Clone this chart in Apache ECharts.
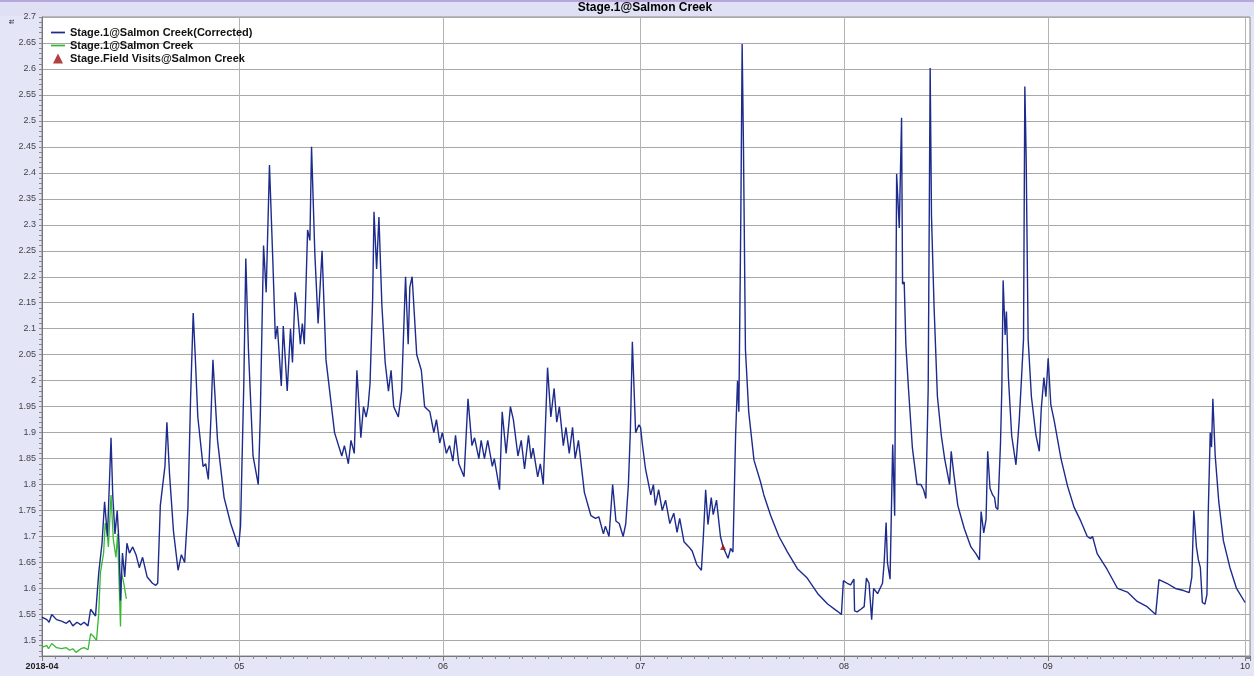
<!DOCTYPE html>
<html>
<head>
<meta charset="utf-8">
<script src="https://cdn.jsdelivr.net/npm/echarts@6/dist/echarts.min.js"></script>
<style>
html,body{margin:0;padding:0;background:#e4e6f7;}
#c{width:1254px;height:676px;}
</style>
</head>
<body>
<div id="c"></div>
<script>
// ---- data (days since 2018-04-01, stage in ft) ----
const chartTitle = 'Stage.1@Salmon Creek';
const seriesNames = ['Stage.1@Salmon Creek(Corrected)', 'Stage.1@Salmon Creek', 'Stage.Field Visits@Salmon Creek'];
const xTickLabels = ['2018-04', '05', '06', '07', '08', '09', '10'];
const yUnit = 'ft';

const correctedDays = [
0.0,0.25,0.74,1.08,1.48,2.22,2.96,3.7,4.2,4.69,5.33,5.92,6.4,7.0,7.4,8.14,8.63,9.13,9.52,9.96,10.5,10.76,11.1,11.44,11.74,11.94,12.24,12.58,12.92,13.3,13.8,14.3,14.8,15.3,16.0,16.8,17.3,17.6,
18.0,18.7,19.0,19.4,20.0,20.7,21.2,21.7,22.2,22.6,23.0,23.3,23.7,24.5,24.9,25.3,25.7,26.0,26.7,27.7,28.7,29.9,30.2,30.7,31.0,31.4,32.1,32.9,33.2,33.7,34.1,34.6,35.1,35.5,35.8,36.4,36.7,37.3,37.8,38.1,38.5,38.8,39.3,39.6,39.9,40.4,40.75,41.0,41.5,42.0,42.6,43.2,44.5,
45.6,46.0,46.6,47.0,47.5,47.9,48.5,48.9,49.3,49.6,49.9,50.3,50.5,50.9,51.25,51.7,52.2,52.7,53.1,53.5,54.2,54.7,55.3,55.7,55.95,56.3,57.0,57.7,58.2,59.0,59.6,60.0,60.5,60.9,61.5,62.0,62.5,62.9,63.4,64.2,64.8,65.4,65.8,66.45,66.8,67.3,67.8,68.5,68.8,69.6,70.0,70.6,71.25,71.7,72.4,72.9,73.4,74.0,74.4,74.7,75.4,75.8,76.25,76.9,77.4,77.9,78.3,78.7,79.3,79.7,80.2,80.7,81.1,81.6,82.5,83.5,84.2,84.7,85.4,85.7,86.25,86.8,87.3,87.8,88.4,88.8,89.2,89.5,89.8,90.3,
90.8,91.05,91.3,91.8,92.6,93.0,93.3,93.8,94.35,94.85,95.5,96.1,96.6,97.0,97.65,98.4,98.9,99.6,100.3,100.6,100.95,101.3,101.8,102.1,102.6,103.2,103.6,104.35,104.75,105.1,105.5,105.8,106.0,106.3,106.5,106.7,107.0,107.5,108.3,109.3,109.8,110.85,112.1,113.4,114.9,116.4,118.0,119.5,121.0,121.6,121.9,122.5,123.0,123.5,123.6,124.0,124.55,125.06,125.4,125.8,126.2,126.5,127.1,127.85,128.1,128.4,128.6,129.0,129.4,129.7,130.0,130.4,130.75,130.9,131.15,131.4,131.8,132.4,133.1,133.7,134.1,134.45,134.8,135.1,135.3,135.7,136.2,
136.8,137.3,138.05,138.3,138.7,139.3,140.3,141.3,142.1,142.6,142.85,143.25,143.6,143.85,144.2,144.6,144.9,145.1,145.4,145.8,146.0,146.2,146.5,146.7,147.0,147.5,148.15,148.65,149.0,149.3,149.5,149.7,150.0,150.5,151.2,151.7,152.0,152.4,152.7,153.05,153.45,153.95,155.0,156.0,157.0,158.0,159.0,159.5,159.8,160.5,162.0,163.6,165.1,166.6,168.1,169.4,169.7,169.9,171.1,172.4,173.65,174.5,174.9,175.2,175.6,175.9,176.2,176.5,176.9,177.2,177.4,177.7,177.9,178.1,178.45,179.0,179.7,180.7,181.7,183.0
];
const correctedStage = [
1.545,1.545,1.54,1.535,1.55,1.54,1.537,1.533,1.538,1.528,1.535,1.53,1.535,1.528,1.56,1.547,1.63,1.687,1.767,1.70,1.89,1.78,1.705,1.75,1.68,1.577,1.668,1.622,1.687,1.668,1.68,1.665,1.64,1.66,1.622,1.61,1.606,1.61,
1.76,1.835,1.92,1.82,1.71,1.635,1.665,1.65,1.755,1.965,2.13,2.05,1.93,1.835,1.84,1.81,1.93,2.04,1.885,1.775,1.725,1.68,1.72,1.995,2.235,2.06,1.855,1.80,1.93,2.26,2.17,2.415,2.235,2.08,2.105,1.99,2.105,1.98,2.10,2.035,2.17,2.145,2.07,2.11,2.07,2.29,2.27,2.45,2.245,2.11,2.25,2.04,1.90,
1.855,1.875,1.84,1.885,1.86,2.02,1.89,1.95,1.93,1.95,1.995,2.16,2.325,2.215,2.315,2.145,2.035,1.98,2.02,1.95,1.93,1.98,2.20,2.07,2.18,2.20,2.05,2.02,1.95,1.94,1.90,1.925,1.88,1.90,1.86,1.875,1.845,1.895,1.84,1.815,1.965,1.875,1.89,1.85,1.885,1.85,1.885,1.835,1.85,1.79,1.94,1.86,1.95,1.925,1.855,1.885,1.83,1.895,1.85,1.87,1.815,1.84,1.80,2.025,1.93,1.985,1.92,1.95,1.875,1.91,1.86,1.91,1.85,1.885,1.785,1.74,1.735,1.738,1.705,1.72,1.70,1.80,1.73,1.725,1.70,1.725,1.80,1.905,2.075,1.90,
1.915,1.91,1.88,1.83,1.78,1.80,1.76,1.79,1.75,1.77,1.725,1.745,1.708,1.735,1.69,1.68,1.672,1.646,1.635,1.70,1.79,1.723,1.775,1.742,1.77,1.70,1.68,1.658,1.677,1.67,1.893,2.00,1.94,2.317,2.648,2.45,2.06,1.94,1.847,1.805,1.78,1.74,1.70,1.67,1.638,1.62,1.59,1.57,1.556,1.55,1.615,1.61,1.607,1.618,1.557,1.555,1.56,1.565,1.62,1.61,1.54,1.60,1.59,1.61,1.65,1.727,1.65,1.618,1.877,1.74,2.398,2.294,2.506,2.186,2.19,2.07,1.985,1.87,1.80,1.80,1.79,1.773,1.985,2.602,2.317,2.14,1.97,
1.894,1.85,1.80,1.864,1.82,1.76,1.715,1.68,1.666,1.655,1.748,1.707,1.733,1.864,1.793,1.78,1.775,1.756,1.752,1.88,1.984,2.193,2.088,2.133,2.006,1.894,1.838,1.924,2.006,2.08,2.566,2.432,2.08,1.969,1.894,1.864,1.946,2.006,1.969,2.043,1.954,1.924,1.85,1.797,1.756,1.73,1.70,1.696,1.70,1.667,1.637,1.60,1.593,1.575,1.565,1.55,1.548,1.617,1.61,1.60,1.596,1.592,1.622,1.75,1.68,1.655,1.64,1.573,1.57,1.588,1.745,1.90,1.872,1.965,1.857,1.767,1.692,1.64,1.60,1.573
];

const rawDays = [0.0,0.25,0.74,0.99,1.48,2.22,2.96,3.7,4.2,4.69,5.18,5.92,6.4,7.0,7.4,7.9,8.29,8.63,8.88,9.37,9.62,9.96,10.1,10.5,10.85,11.25,11.5,11.94,12.09,12.44,12.83];
const rawStage = [1.487,1.487,1.49,1.484,1.494,1.486,1.484,1.486,1.481,1.484,1.477,1.484,1.486,1.482,1.513,1.507,1.50,1.552,1.63,1.668,1.726,1.70,1.68,1.78,1.694,1.66,1.705,1.527,1.63,1.61,1.58];

const visitDays = [103.6];
const visitStage = [1.68];

// ---- build ----
const t0 = new Date(2018, 3, 1).getTime();
const tEnd = new Date(2018, 9, 1).getTime();
const DAY = 86400000;
const toPts = (d, v) => d.map((x, i) => [t0 + x * DAY, v[i]]);

const chart = echarts.init(document.getElementById('c'), null, {renderer: 'canvas'});
const FONT = '"Liberation Sans", Arial, sans-serif';
const yMin = 1.47, yMax = 2.7;
const lineIcon = 'path://M0,0 L24,0 L24,3 L0,3 Z';

chart.setOption({
  animation: false,
  backgroundColor: '#e4e6f7',
  graphic: [
    {type: 'rect', shape: {x: 0, y: 0, width: 1254, height: 2}, style: {fill: '#b9a6dc'}, silent: true},
    {type: 'rect', shape: {x: 0, y: 2, width: 1254, height: 14}, style: {fill: '#dfe0f4'}, silent: true},
    {type: 'text', x: 645, y: 2, style: {text: chartTitle, font: 'bold 12px ' + FONT, fill: '#000', align: 'center'}, silent: true},
    {type: 'text', x: 8, y: 24, rotation: Math.PI / 2, style: {text: yUnit, font: '8px ' + FONT, fill: '#333'}, silent: true}
  ],
  grid: {left: 42, right: 4, top: 17, bottom: 20, show: true, backgroundColor: '#fff', borderColor: '#8a8a8a', borderWidth: 1},
  legend: {
    orient: 'vertical', left: 46, top: 22, itemGap: 2, itemWidth: 14, itemHeight: 10,
    textStyle: {fontFamily: FONT, fontWeight: 'bold', fontSize: 11, color: '#111'},
    data: [
      {name: seriesNames[0], icon: lineIcon},
      {name: seriesNames[1], icon: lineIcon},
      {name: seriesNames[2], icon: 'path://M0,10 L5,0 L10,10 Z'}
    ]
  },
  xAxis: {
    type: 'time',
    min: t0,
    max: tEnd + 0.75 * DAY,
    minInterval: 28 * DAY,
    maxInterval: 31 * DAY,
    axisLine: {lineStyle: {color: '#777'}},
    axisTick: {length: 5, lineStyle: {color: '#777'}},
    minorTick: {show: true, splitNumber: 15, length: 3, lineStyle: {color: '#888'}},
    splitLine: {show: true, lineStyle: {color: '#b4b4b4', width: 1}},
    axisLabel: {
      fontFamily: FONT, fontSize: 9, color: '#333', margin: 6,
      formatter: function (v) {
        const d = new Date(v);
        if (d.getDate() !== 1 || d.getHours() !== 0) return '';
        const idx = (d.getFullYear() - 2018) * 12 + d.getMonth() - 3;
        const s = xTickLabels[idx] || '';
        return idx === 0 ? '{b|' + s + '}' : s;
      },
      rich: {b: {fontWeight: 'bold', fontSize: 9, fontFamily: FONT, color: '#222'}}
    }
  },
  yAxis: {
    type: 'value',
    min: yMin, max: yMax, interval: 0.01,
    axisLine: {show: true, lineStyle: {color: '#777'}},
    axisTick: {show: true, length: 3, lineStyle: {color: '#888'}},
    splitLine: {show: true, lineStyle: {color: ['rgba(0,0,0,0)', 'rgba(0,0,0,0)', 'rgba(0,0,0,0)', '#a8a8a8', 'rgba(0,0,0,0)'], width: 1}},
    axisLabel: {
      fontFamily: FONT, fontSize: 9, color: '#444', margin: 6,
      formatter: function (v) {
        const c = Math.round(v * 100);
        if (c % 5 !== 0) return '';
        return String(+(c / 100).toFixed(2));
      }
    }
  },
  series: [
    {
      name: seriesNames[1], type: 'line', data: toPts(rawDays, rawStage), symbol: 'none', z: 2,
      lineStyle: {color: '#35b935', width: 1.3}, itemStyle: {color: '#35b935'}
    },
    {
      name: seriesNames[0], type: 'line', data: toPts(correctedDays, correctedStage), symbol: 'none', z: 3,
      lineStyle: {color: '#1d2b8c', width: 1.4}, itemStyle: {color: '#1d2b8c'}
    },
    {
      name: seriesNames[2], type: 'scatter', data: toPts(visitDays, visitStage), symbol: 'triangle', symbolSize: 6, z: 4,
      itemStyle: {color: '#a01010'}
    }
  ]
});
</script>
</body>
</html>
